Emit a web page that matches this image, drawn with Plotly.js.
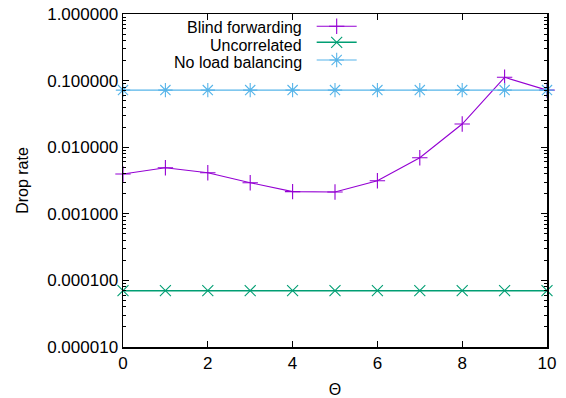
<!DOCTYPE html>
<html>
<head>
<meta charset="utf-8">
<script src="https://cdn.plot.ly/plotly-3.0.1.min.js"></script>
<style>
  html, body { margin: 0; padding: 0; background: #fff; }
  #chart { width: 566px; height: 398px; }
</style>
</head>
<body>
<div id="chart"></div>
<script>
// Drop rate versus the Θ parameter for three forwarding schemes
const theta = [0, 1, 2, 3, 4, 5, 6, 7, 8, 9, 10];
const blindForwarding = [0.00396, 0.00492, 0.00414, 0.00293, 0.00215, 0.00212, 0.00314, 0.00695, 0.0223, 0.112, 0.072];
const uncorrelated = [0.00007, 0.00007, 0.00007, 0.00007, 0.00007, 0.00007, 0.00007, 0.00007, 0.00007, 0.00007, 0.00007];
const noLoadBalancing = [0.072, 0.072, 0.072, 0.072, 0.072, 0.072, 0.072, 0.072, 0.072, 0.072, 0.072];
const seriesNames = ['Blind forwarding', 'Uncorrelated', 'No load balancing'];
const yTicks = [0.00001, 0.0001, 0.001, 0.01, 0.1, 1];

const FONT = 'Liberation Sans, Arial, Helvetica, sans-serif';
const colors = ['#9400D3', '#009E73', '#56B4E9'];
const symbols = ['cross-thin-open', 'x-thin-open', 'asterisk-open'];
const sizes = [11, 11, 12];
const values = [blindForwarding, uncorrelated, noLoadBalancing];
const legendIds = ['legend', 'legend2', 'legend3'];

const traces = values.map((ys, i) => ({
  x: theta,
  y: ys,
  type: 'scatter',
  mode: 'lines+markers',
  name: '',
  legend: legendIds[i],
  hovertext: seriesNames[i],
  line: { color: colors[i], width: i === 1 ? 1.4 : 1.1 },
  marker: { symbol: symbols[i], size: sizes[i], color: colors[i], line: { color: colors[i], width: 1.1 } },
  cliponaxis: false
}));

// key rows: label right-aligned, sample to its right (one small legend per row)
const labelY = [0.9595, 0.9069, 0.8544];
const sampleY = [0.963, 0.915, 0.862];
const annotations = seriesNames.map((t, i) => ({
  text: t,
  xref: 'paper', yref: 'paper',
  x: 0.4245, y: labelY[i],
  xanchor: 'right', yanchor: 'middle',
  showarrow: false,
  borderpad: 0,
  font: { family: FONT, size: 16, color: '#000' }
}));

const layout = {
  width: 566,
  height: 398,
  margin: { l: 123, r: 19, t: 14, b: 51 },
  paper_bgcolor: '#fff',
  plot_bgcolor: '#fff',
  font: { family: FONT, size: 17, color: '#000' },
  showlegend: true,
  annotations: annotations,
  xaxis: {
    range: [0, 10],
    dtick: 2,
    tick0: 0,
    showgrid: false,
    zeroline: false,
    showline: true,
    linecolor: '#000',
    linewidth: 1.5,
    mirror: 'ticks',
    ticks: 'inside',
    ticklen: 6,
    tickcolor: '#000',
    tickwidth: 1,
    tickfont: { family: FONT, size: 17 },
    title: { text: 'Θ', font: { family: FONT, size: 16 }, standoff: 14 }
  },
  yaxis: {
    type: 'log',
    range: [-5, 0],
    tickvals: yTicks,
    tickformat: '.6f',
    showgrid: false,
    zeroline: false,
    showline: true,
    linecolor: '#000',
    linewidth: 1.5,
    mirror: 'ticks',
    ticks: 'inside',
    ticklen: 6,
    tickcolor: '#000',
    tickwidth: 1,
    minor: { ticks: 'inside', ticklen: 3, tickcolor: '#000', tickwidth: 1, dtick: 'D1', showgrid: false },
    tickfont: { family: FONT, size: 17 },
    title: { text: 'Drop rate', font: { family: FONT, size: 16 }, standoff: 14 }
  }
};

legendIds.forEach((id, i) => {
  layout[id] = {
    x: 0.445, y: sampleY[i], xanchor: 'left', yanchor: 'middle',
    bgcolor: 'rgba(0,0,0,0)',
    font: { family: FONT, size: 11 },
    itemwidth: 40
  };
});

Plotly.newPlot('chart', traces, layout, { staticPlot: true, displayModeBar: false });
</script>
</body>
</html>
